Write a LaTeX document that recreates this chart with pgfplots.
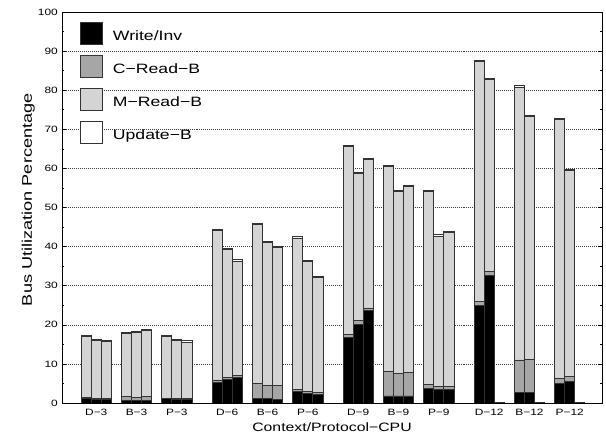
\documentclass[border=0pt]{standalone}
\usepackage{fontspec}
\setmainfont{Liberation Sans}[FakeStretch=1.3]
\usepackage{pgfplots}
\usepackage{pgfplotstable}
\pgfplotsset{compat=1.18}
\definecolor{cgray}{gray}{0.65}
\definecolor{mgray}{gray}{0.83}
\definecolor{edgec}{gray}{0.2}

\pgfplotstableread{
x    W    C    M    U
2.5  1.2  0.2  15.6 0.3
3.5  0.9  0.2  14.8 0.3
4.5  0.9  0.2  14.6 0.3
6.5  0.6  1.0  16.2 0.3
7.5  0.6  0.9  16.5 0.3
8.5  0.6  1.0  17.0 0.3
10.5 1.1  0.2  15.7 0.3
11.5 0.9  0.2  14.8 0.3
12.5 0.9  0.2  14.5 0.3
15.5 5.3  0.6  38.3 0.3
16.5 6.1  0.5  32.7 0.3
17.5 6.6  0.5  29.2 0.3
19.5 1.2  3.8  40.6 0.3
20.5 1.1  3.3  36.6 0.3
21.5 1.0  3.4  35.3 0.3
23.5 3.0  0.4  38.8 0.3
24.5 2.5  0.4  33.2 0.3
25.5 2.3  0.4  29.4 0.3
28.5 16.8 0.8  47.9 0.3
29.5 20.2 0.9  37.6 0.3
30.5 23.6 0.7  38.0 0.3
32.5 1.8  6.3  52.3 0.3
33.5 1.8  5.7  46.7 0.3
34.5 1.8  6.0  47.5 0.3
36.5 3.8  0.9  49.5 0.3
37.5 3.5  0.8  38.4 0.3
38.5 3.5  0.8  39.4 0.3
41.5 25.0 1.0  61.4 0.3
42.5 32.7 1.0  49.1 0.3
43.5 0.2  0    0    0
45.5 2.6  8.4  69.8 0.3
46.5 2.6  8.6  62.0 0.3
47.5 0.2  0    0    0
49.5 5.0  1.2  66.4 0.3
50.5 5.5  1.2  52.7 0.3
51.5 0.2  0    0    0
}\data

\begin{document}
\begin{tikzpicture}
\useasboundingbox (-62bp,-32bp) rectangle (544bp,403bp);
\begin{axis}[
  at={(0,0)}, anchor=south west,
  scale only axis, width=540bp, height=391bp,
  xmin=0.1, xmax=53.7, ymin=0, ymax=100,
  ybar stacked, bar width=1,
  ytick={0,10,...,100}, minor y tick num=1,
  ytick pos=both, yticklabel pos=left,
  xtick={3.5,7.5,11.5,16.5,20.5,24.5,29.5,33.5,37.5,42.5,46.5,50.5},
  xticklabels={D−3,B−3,P−3,D−6,B−6,P−6,D−9,B−9,P−9,D−12,B−12,P−12},
  x tick style={draw=none},
  tick align=inside, major tick length=4bp, minor tick length=2.5bp,
  y tick style={black, line width=0.6pt},
  ymajorgrids,
  grid style={black!75, dash pattern=on 1pt off 1pt, line width=0.6pt},
  axis line style={black, line width=0.8pt},
  /pgf/number format/assume math mode=true,
  tick label style={font=\fontsize{9.2}{10}\selectfont},
  yticklabel style={anchor=east, inner sep=0pt, xshift=-4bp},
  xticklabel style={anchor=north, inner sep=0pt, yshift=-6bp},
  xlabel={Context/Protocol−CPU},
  ylabel={Bus Utilization Percentage},
  every axis x label/.style={at={(axis description cs:0.5,0)}, anchor=north, yshift=-19bp, inner sep=0pt, font=\fontsize{12.2}{14}\selectfont},
  every axis y label/.style={at={(axis description cs:0,0.52)}, xshift=-27bp, rotate=90, anchor=south, inner sep=0pt, font=\fontsize{14}{16}\selectfont},
  legend style={at={(0.0333,0.9744)}, anchor=north west, draw=none, fill=none, inner sep=0pt, row sep=10bp, font=\fontsize{13.6}{15}\selectfont, nodes={inner sep=0pt}, /tikz/every odd column/.append style={column sep=10bp}},
  legend cell align=left,
  legend image code/.code={\draw[#1, line width=0.8pt] (0bp,-8bp) rectangle (22bp,14bp);},
  every axis plot/.append style={draw=edgec, line width=0.8pt},
]
\addplot[fill=black] table[x=x, y=W] {\data};
\addplot[fill=cgray] table[x=x, y=C] {\data};
\addplot[fill=mgray] table[x=x, y=M] {\data};
\addplot[fill=white] table[x=x, y=U] {\data};
\legend{Write/Inv, C−Read−B, M−Read−B, Update−B}
\end{axis}
\end{tikzpicture}
\end{document}
